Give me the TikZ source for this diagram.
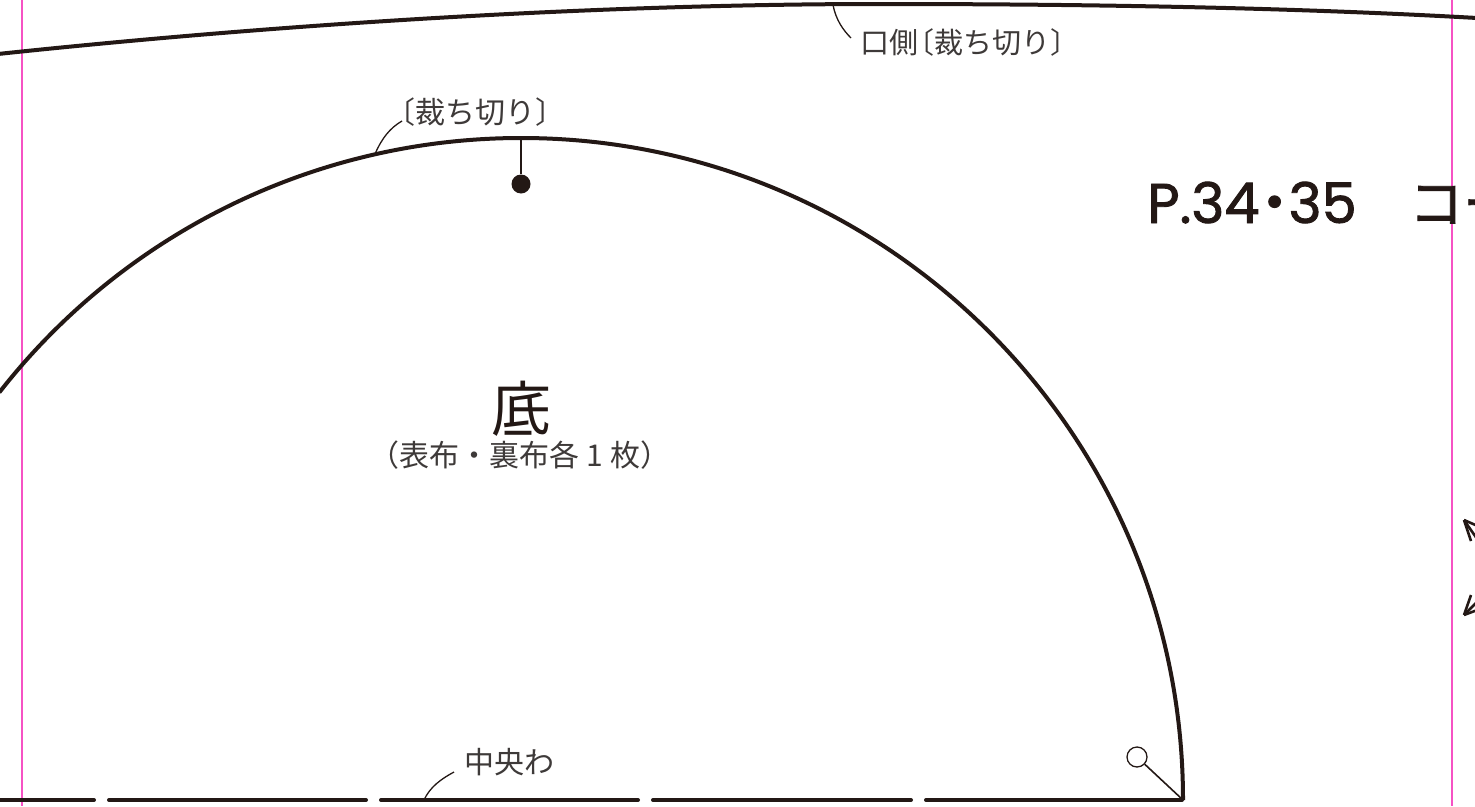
\documentclass[tikz,border=0pt]{standalone}
\usepackage{fontspec}
\newfontfamily\cjk{Noto Sans CJK JP}
\newfontfamily\cjkhead[FakeBold=1.6]{Noto Sans CJK JP}
\newfontfamily\latinhead[FakeBold=1.6]{Poppins}
\definecolor{ink}{HTML}{231815}
\definecolor{inksoft}{HTML}{3E3A39}
\definecolor{guide}{HTML}{F652C4}
\tikzset{
  cutline/.style={draw=ink,line width=4pt},
  foldline/.style={draw=ink,line width=4pt,line cap=round},
  leader/.style={draw=ink,line width=1.3pt},
  guideline/.style={draw=guide,line width=1.5pt},
  stem/.style={draw=ink,line width=1.6pt},
  arrowstroke/.style={draw=ink,line width=2.6pt},
  label/.style={inner sep=0pt,text=inksoft,font=\cjk\fontsize{30}{30}\selectfont},
}
\begin{document}
\begin{tikzpicture}[x=1pt,y=-1pt]
\useasboundingbox (0,0) rectangle (1475,806);
\clip (0,0) rectangle (1475,806);
% guide lines
\coordinate (g1t) at (22,0); \coordinate (g1b) at (22,806);
\coordinate (g2t) at (1452,0); \coordinate (g2b) at (1452,806);
\draw[guideline] (g1t) -- (g1b);
\draw[guideline] (g2t) -- (g2b);
% mouth edge
\draw[cutline] (-2,54) .. controls (280,24) and (600,4) .. (880,4) .. controls (1100,4) and (1300,8) .. (1477,18);
% bottom piece arc
\coordinate (corner) at (1183,800);
\draw[cutline] (corner) arc[start angle=0,end angle=142,radius=662pt];
% fold
\foreach \a/\b in {-5/94,109/366,381/638,653/911,926/1182}{
  \draw[foldline] (\a,800) -- (\b,800);
}
% dot
\node[circle,fill=ink,inner sep=0pt,minimum size=19pt] (dot) at (521,184) {};
\coordinate (apex) at (521,138);
\draw[stem] (apex) -- (dot);
% grain ring
\node[circle,draw=ink,line width=1.3pt,inner sep=0pt,minimum size=20pt] (ring) at (1137,757) {};
\draw[stem] (ring) -- (corner);
% labels
\node[label] (cut) at (475,112) {〔裁ち切り〕};
\node[label,anchor=west,font=\cjk\fontsize{29}{29}\selectfont] (mouth) at (860,42) {口側\kern-13pt〔裁ち切り〕};
\node[label,anchor=west] (center) at (464,762) {中央わ};
\node[inner sep=0pt,text=ink,font=\cjk\fontsize{60}{60}\selectfont] (title) at (521,409) {底};
\node[label] (count) at (520,455) {（表布・裏布各 1 枚）};
\node[inner sep=0pt,anchor=base west,text=ink,font=\latinhead\fontsize{56}{56}\selectfont] (page) at (1147,223) {P.34\kern-13pt{\cjkhead ・}\kern-14pt 35};
\node[inner sep=0pt,anchor=base west,text=ink,font=\cjkhead\fontsize{54}{54}\selectfont] (head) at (1409,223) {コー};
% leaders
\coordinate (l1a) at (375,154); \coordinate (l1b) at (402,121);
\draw[leader] (l1a) .. controls (382,138) and (390,128) .. (l1b);
\coordinate (l2a) at (833,5); \coordinate (l2b) at (851,38);
\draw[leader] (l2a) .. controls (836,20) and (843,30) .. (l2b);
\coordinate (l3a) at (424,800); \coordinate (l3b) at (454,772);
\draw[leader] (l3a) .. controls (430,787) and (441,779) .. (l3b);
% arrows at edge
\coordinate (a1) at (1464,520); \coordinate (a2) at (1464,615);
\draw[arrowstroke] (a1) -- (1482,546);
\draw[arrowstroke] (a1) -- (1471,541);
\draw[arrowstroke] (a1) -- (1480,527);
\draw[arrowstroke] (a2) -- (1482,597);
\draw[arrowstroke] (a2) -- (1471,595);
\draw[arrowstroke] (a2) -- (1480,609);
\end{tikzpicture}
\end{document}
